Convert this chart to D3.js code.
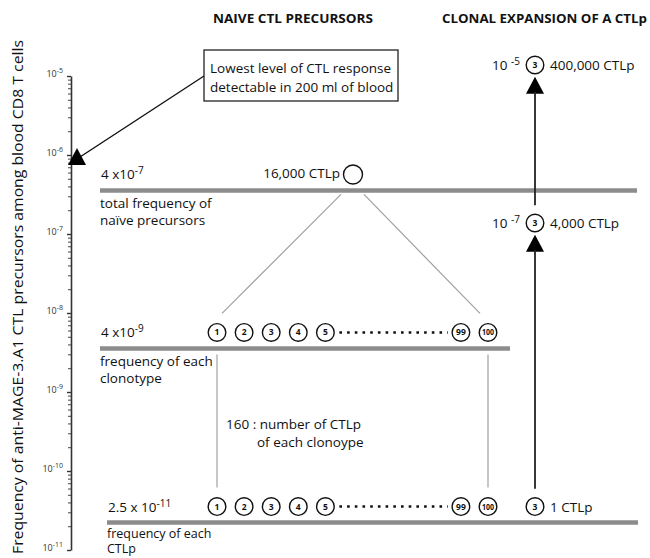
<!DOCTYPE html>
<html lang="en">
<head>
  <meta charset="UTF-8" />
  <title>CTL precursor frequencies</title>
  <script src="https://cdn.jsdelivr.net/npm/d3@7"></script>
  <style>
    body {
      margin: 0;
      background: #fff;
    }
    svg text {
      font-family: "Open Sans", sans-serif;
      fill: #111;
    }
  </style>
</head>
<body>
  <div id="chart"></div>

  <script>
    // values
    const axisExponents = [-5, -6, -7, -8, -9, -10, -11];
    const levelValues = [4e-7, 4e-9, 2.5e-11];
    const levelLabels = [["4 x10", "-7"], ["4 x10", "-9"], ["2.5 x 10", "-11"]];
    const levelNotes = [
      ["total frequency of", "naïve precursors"],
      ["frequency of each", "clonotype"],
      ["frequency of each", "CTLp"]
    ];
    const clonotypes = ["1", "2", "3", "4", "5", "99", "100"];
    const clonotypeSlots = [0, 1, 2, 3, 4, 9, 10];
    const poolCount = "16,000 CTLp";
    const cellsPerClonotype = 160;
    const detectionLimit = 1e-6;
    const expansionValues = [1e-5, 1e-7, 2.5e-11];
    const expansionExponents = ["-5", "-7", null];
    const expansionCounts = ["400,000 CTLp", "4,000 CTLp", "1 CTLp"];
    const expandedClone = "3";

    const width = 650;
    const height = 558;
    const bodyFont = "13.5px";

    const svg = d3.select("#chart")
      .append("svg")
      .attr("width", width)
      .attr("height", height);

    const y = d3.scaleLog()
      .domain([1e-11, 1e-5])
      .range([550, 76]);

    // clonotype slots along a row (gap for the dotted part)
    const x = d3.scaleLinear()
      .domain([0, 10])
      .range([217, 488]);

    const expansionX = 535;
    const r = 8.8;

    // ---- axis ----
    const minorTicks = [];
    for (let e = -11; e < -5; e++) {
      for (let m = 2; m <= 9; m++) minorTicks.push(m * Math.pow(10, e));
    }

    const axisG = svg.append("g")
      .attr("transform", "translate(71,0)");

    axisG.call(d3.axisLeft(y)
        .tickValues(minorTicks)
        .tickSize(3)
        .tickSizeOuter(0)
        .tickFormat(""))
      .call(g => g.selectAll("line").attr("stroke", "#444"));

    axisG.select(".domain").attr("stroke", "#333").attr("stroke-width", 1.6);

    const majorG = svg.append("g")
      .attr("transform", "translate(71,0)")
      .call(d3.axisLeft(y)
        .tickValues(axisExponents.map(e => Math.pow(10, e)))
        .tickSize(4)
        .tickSizeOuter(0)
        .tickFormat(""));
    majorG.select(".domain").remove();
    majorG.selectAll("line").attr("stroke", "#333").attr("stroke-width", 1.4);

    const tickLabels = svg.append("g")
      .selectAll("text")
      .data(axisExponents)
      .join("text")
      .attr("x", 63)
      .attr("y", e => y(Math.pow(10, e)) + 1)
      .attr("text-anchor", "end")
      .style("font-size", "9px")
      .style("fill", "#333");
    tickLabels.append("tspan").text("10");
    tickLabels.append("tspan")
      .attr("dy", -4)
      .style("font-size", "7px")
      .text(e => "-" + Math.abs(e));

    svg.append("text")
      .attr("transform", "translate(23,297) rotate(-90)")
      .attr("text-anchor", "middle")
      .attr("textLength", 514)
      .attr("lengthAdjust", "spacingAndGlyphs")
      .style("font-size", "14.5px")
      .text("Frequency of anti-MAGE-3.A1 CTL precursors among blood CD8 T cells");

    // ---- headings ----
    svg.append("text")
      .attr("x", 213).attr("y", 23)
      .attr("textLength", 160)
      .attr("lengthAdjust", "spacingAndGlyphs")
      .style("font-size", "12.5px")
      .style("font-weight", "bold")
      .text("NAIVE CTL PRECURSORS");

    svg.append("text")
      .attr("x", 442).attr("y", 23)
      .attr("textLength", 205)
      .attr("lengthAdjust", "spacingAndGlyphs")
      .style("font-size", "12.5px")
      .style("font-weight", "bold")
      .text("CLONAL EXPANSION OF A CTLp");

    // ---- detection limit box and arrow ----
    svg.append("rect")
      .attr("x", 204).attr("y", 50)
      .attr("width", 194).attr("height", 51)
      .attr("fill", "#fff")
      .attr("stroke", "#222")
      .attr("stroke-width", 1.3);

    svg.append("text")
      .attr("x", 210).attr("y", 73)
      .style("font-size", bodyFont)
      .text("Lowest level of CTL response");
    svg.append("text")
      .attr("x", 210).attr("y", 92)
      .style("font-size", bodyFont)
      .text("detectable in 200 ml of blood");

    const tri = (cx, top) => `M${cx},${top}L${cx + 9},${top + 17}L${cx - 9},${top + 17}Z`;

    const limitY = y(detectionLimit);
    svg.append("line")
      .attr("x1", 204).attr("y1", 76)
      .attr("x2", 80).attr("y2", limitY + 2)
      .attr("stroke", "#111")
      .attr("stroke-width", 1.4);
    svg.append("path")
      .attr("d", tri(77, limitY - 7))
      .attr("fill", "#000");

    // ---- frequency levels ----
    const lineExtent = [[100, 637], [100, 510], [107, 638]];

    svg.append("g")
      .selectAll("line")
      .data(levelValues)
      .join("line")
      .attr("x1", (d, i) => lineExtent[i][0])
      .attr("x2", (d, i) => lineExtent[i][1])
      .attr("y1", d => y(d) + 4)
      .attr("y2", d => y(d) + 4)
      .attr("stroke", "#8c8c8c")
      .attr("stroke-width", 4.5);

    const lvl = svg.append("g")
      .selectAll("text")
      .data(levelValues)
      .join("text")
      .attr("x", (d, i) => lineExtent[i][0] + 1)
      .attr("y", d => y(d) - 7)
      .style("font-size", bodyFont);
    lvl.append("tspan").text((d, i) => levelLabels[i][0]);
    lvl.append("tspan")
      .attr("dy", -5)
      .style("font-size", "10px")
      .text((d, i) => levelLabels[i][1]);

    levelNotes.forEach((lines, i) => {
      const last = i === 2;
      const base = y(levelValues[i]) + 4 + (last ? 15 : 18);
      lines.forEach((t, j) => {
        svg.append("text")
          .attr("x", lineExtent[i][0])
          .attr("y", base + j * (last ? 15.5 : 16.5))
          .style("font-size", last ? "12.5px" : bodyFont)
          .text(t);
      });
    });

    // ---- pool of naive precursors ----
    const poolY = y(levelValues[0]) - 12;
    const poolX = 353;
    svg.append("circle")
      .attr("cx", poolX).attr("cy", poolY).attr("r", 9.5)
      .attr("fill", "none").attr("stroke", "#111").attr("stroke-width", 1.4);
    svg.append("text")
      .attr("x", poolX - 13).attr("y", poolY + 4)
      .attr("text-anchor", "end")
      .style("font-size", bodyFont)
      .text(poolCount);

    // fan from the pool to the clonotype row
    const rowY = levelValues.map(v => y(v) - 12);
    const fan = [
      [poolX - 12, y(levelValues[0]) + 8, x(0) + 5, rowY[1] - 19],
      [poolX + 11, y(levelValues[0]) + 8, x(10) - 8, rowY[1] - 19]
    ];
    svg.append("g")
      .selectAll("line")
      .data(fan)
      .join("line")
      .attr("x1", d => d[0]).attr("y1", d => d[1])
      .attr("x2", d => d[2]).attr("y2", d => d[3])
      .attr("stroke", "#a0a0a0")
      .attr("stroke-width", 1.2);

    // verticals from clonotype row to single-cell row
    svg.append("g")
      .selectAll("line")
      .data([0, 10])
      .join("line")
      .attr("x1", d => x(d)).attr("x2", d => x(d))
      .attr("y1", y(levelValues[1]) + 10)
      .attr("y2", rowY[2] - 19)
      .attr("stroke", "#a0a0a0")
      .attr("stroke-width", 1.2);

    svg.append("text")
      .attr("x", 226).attr("y", 429)
      .style("font-size", bodyFont)
      .text(cellsPerClonotype + " : number of CTLp");
    svg.append("text")
      .attr("x", 257).attr("y", 447)
      .style("font-size", bodyFont)
      .text("of each clonoype");

    // clonotype rows
    [rowY[1], rowY[2]].forEach(cy => {
      const g = svg.append("g");
      g.selectAll("circle")
        .data(clonotypeSlots)
        .join("circle")
        .attr("cx", d => x(d)).attr("cy", cy).attr("r", r)
        .attr("fill", "#fff").attr("stroke", "#111").attr("stroke-width", 1.4);
      g.selectAll("text")
        .data(clonotypes)
        .join("text")
        .attr("x", (d, i) => x(clonotypeSlots[i]))
        .attr("y", cy + 3)
        .attr("text-anchor", "middle")
        .attr("textLength", d => d.length === 3 ? 12 : null)
        .attr("lengthAdjust", "spacingAndGlyphs")
        .style("font-size", "8.5px")
        .style("font-weight", "bold")
        .text(d => d);
      g.append("line")
        .attr("x1", x(4) + 14).attr("x2", x(9) - 13)
        .attr("y1", cy).attr("y2", cy)
        .attr("stroke", "#111")
        .attr("stroke-width", 2.6)
        .attr("stroke-dasharray", "2.6 5.1");
    });

    // ---- clonal expansion column ----
    const expY = expansionValues.map((v, i) => i === 2 ? rowY[2] : y(v) - 11);

    for (let i = 0; i < 2; i++) {
      const top = expY[i] + r + 3;
      svg.append("path").attr("d", tri(expansionX, top)).attr("fill", "#000");
      svg.append("line")
        .attr("x1", expansionX).attr("x2", expansionX)
        .attr("y1", top + 15)
        .attr("y2", expY[i + 1] - r - 9)
        .attr("stroke", "#222")
        .attr("stroke-width", 1.8);
    }

    const exp = svg.append("g")
      .selectAll("g")
      .data(expansionValues)
      .join("g");
    exp.append("circle")
      .attr("cx", expansionX).attr("cy", (d, i) => expY[i]).attr("r", r)
      .attr("fill", "#fff").attr("stroke", "#111").attr("stroke-width", 1.4);
    exp.append("text")
      .attr("x", expansionX).attr("y", (d, i) => expY[i] + 3)
      .attr("text-anchor", "middle")
      .style("font-size", "8.5px")
      .style("font-weight", "bold")
      .text(expandedClone);
    exp.append("text")
      .attr("x", expansionX + 15).attr("y", (d, i) => expY[i] + 5)
      .style("font-size", bodyFont)
      .text((d, i) => expansionCounts[i]);

    const expLab = exp.filter((d, i) => expansionExponents[i] !== null)
      .append("text")
      .attr("x", expansionX - 15)
      .attr("y", (d, i) => expY[i] + 5)
      .attr("text-anchor", "end")
      .style("font-size", bodyFont);
    expLab.append("tspan").text("10 ");
    expLab.append("tspan")
      .attr("dy", -5)
      .style("font-size", "10px")
      .text((d, i) => expansionExponents[i]);
  </script>
</body>
</html>
